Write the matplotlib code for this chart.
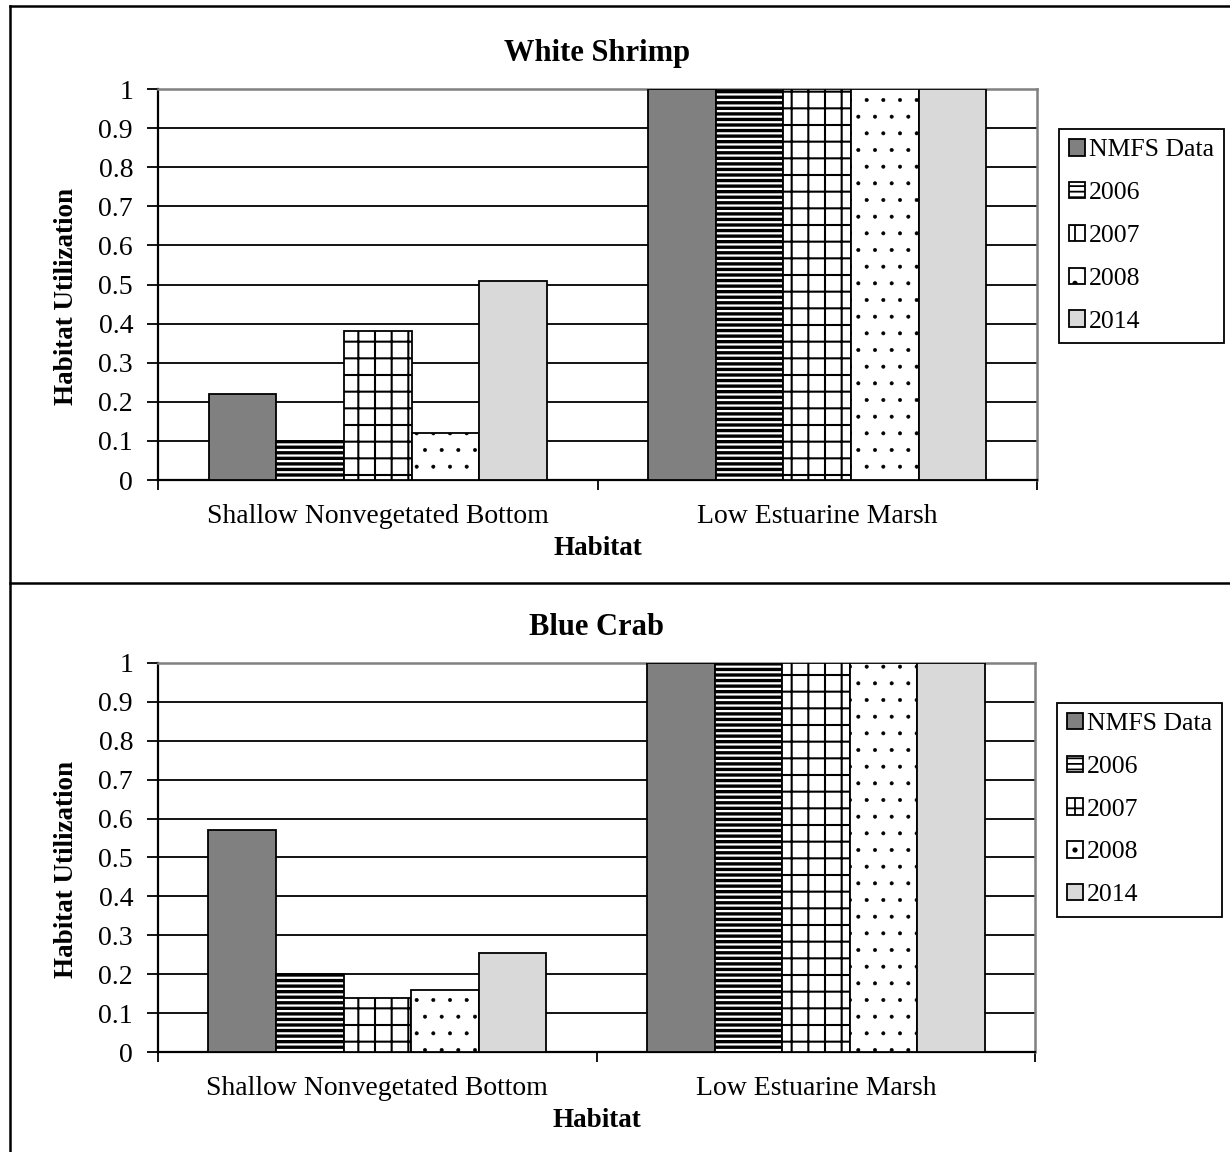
#!/usr/bin/env python3
"""
Render habitat utilization bar charts for white shrimp and blue crab.
"""

import matplotlib
matplotlib.use('Agg')
import matplotlib.pyplot as plt
import numpy as np
from matplotlib.lines import Line2D

# Data
habitats = ['Shallow Nonvegetated Bottom', 'Low Estuarine Marsh']
series_names = ['NMFS Data', '2006', '2007', '2008', '2014']

shrimp_nmfs = [0.22, 1.0]
shrimp_2006 = [0.10, 1.0]
shrimp_2007 = [0.38, 1.0]
shrimp_2008 = [0.12, 1.0]
shrimp_2014 = [0.51, 1.0]

crab_nmfs = [0.57, 1.0]
crab_2006 = [0.20, 1.0]
crab_2007 = [0.14, 1.0]
crab_2008 = [0.16, 1.0]
crab_2014 = [0.255, 1.0]

y_ticks = [0, 0.1, 0.2, 0.3, 0.4, 0.5, 0.6, 0.7, 0.8, 0.9, 1]
y_tick_labels = ['0', '0.1', '0.2', '0.3', '0.4', '0.5', '0.6', '0.7', '0.8', '0.9', '1']

plt.rcParams['font.family'] = ['Liberation Serif', 'DejaVu Serif']
plt.rcParams['hatch.linewidth'] = 1.3

# one style per series: (facecolor, hatch, hatch linewidth)
styles = [('#808080', '', 1.0), ('white', '---', 2.4), ('white', '+', 1.5),
          ('white', '.', 0.4), ('#d9d9d9', '', 1.0)]


def draw_chart(fig, rect, title, values):
    ax = fig.add_axes(rect)
    x = np.arange(len(habitats))
    width = 0.154
    n = len(values)

    for i, (vals, name) in enumerate(zip(values, series_names)):
        face, hatch, hlw = styles[i]
        bars = ax.bar(x + (i - (n - 1) / 2) * width, vals, width, label=name,
                      color=face, hatch=hatch, edgecolor='black', linewidth=1.3, zorder=3)
        for b in bars:
            if hasattr(b, 'set_hatch_linewidth'):
                b.set_hatch_linewidth(hlw)

    ax.set_xlim(-0.5, 1.5)
    ax.set_ylim(0, 1)
    ax.set_yticks(y_ticks)
    ax.set_yticklabels(y_tick_labels)
    ax.set_xticks([-0.5, 0.5, 1.5], minor=False)
    ax.set_xticklabels([])
    ax.set_xticks(x, minor=True)
    ax.set_xticklabels(habitats, minor=True)
    ax.tick_params(axis='x', which='minor', length=0, labelsize=20, pad=17)
    ax.tick_params(axis='x', which='major', length=7, width=1.3, color='black')
    ax.tick_params(axis='y', length=8, width=1.3, labelsize=20, pad=10)

    ax.yaxis.grid(True, color='black', linewidth=1.3)
    ax.set_axisbelow(True)

    ax.spines['left'].set_linewidth(1.6)
    ax.spines['bottom'].set_linewidth(1.6)
    ax.spines['top'].set_color('#808080')
    ax.spines['right'].set_color('#808080')
    ax.spines['top'].set_linewidth(1.8)
    ax.spines['right'].set_linewidth(1.8)

    ax.set_title(title, fontsize=22, fontweight='bold', pad=20)
    ax.set_xlabel('Habitat', fontsize=19.5, fontweight='bold', labelpad=5)
    ax.set_ylabel('Habitat Utilization', fontsize=19.5, fontweight='bold')
    ax.yaxis.set_label_coords(-0.09, 0.47)

    leg = ax.legend(loc='upper left', bbox_to_anchor=(1.025, 0.898), fontsize=18.5,
                    handlelength=0.6, handleheight=0.6, handletextpad=0.15,
                    labelspacing=0.8, borderpad=0.4, borderaxespad=0,
                    fancybox=False, edgecolor='black', framealpha=1)
    leg.get_frame().set_linewidth(1.3)
    return ax


def main():
    fig = plt.figure(figsize=(12.3, 11.52), dpi=100)

    draw_chart(fig, [0.1285, 0.5833, 0.7146, 0.3394], 'White Shrimp',
               [shrimp_nmfs, shrimp_2006, shrimp_2007, shrimp_2008, shrimp_2014])
    draw_chart(fig, [0.1285, 0.0868, 0.7130, 0.3377], 'Blue Crab',
               [crab_nmfs, crab_2006, crab_2007, crab_2008, crab_2014])

    # outer frame lines of the two panels
    W, H = 1230, 1152
    border = dict(color='black', linewidth=1.8, transform=fig.transFigure)
    fig.add_artist(Line2D([10 / W, 1.0], [1 - 6 / H, 1 - 6 / H], **border))
    fig.add_artist(Line2D([10 / W, 10 / W], [0, 1 - 6 / H], **border))
    fig.add_artist(Line2D([10 / W, 1.0], [1 - 583 / H, 1 - 583 / H], **border))

    fig.savefig('out.png', dpi=100, facecolor='white')
    plt.close(fig)


if __name__ == "__main__":
    main()
